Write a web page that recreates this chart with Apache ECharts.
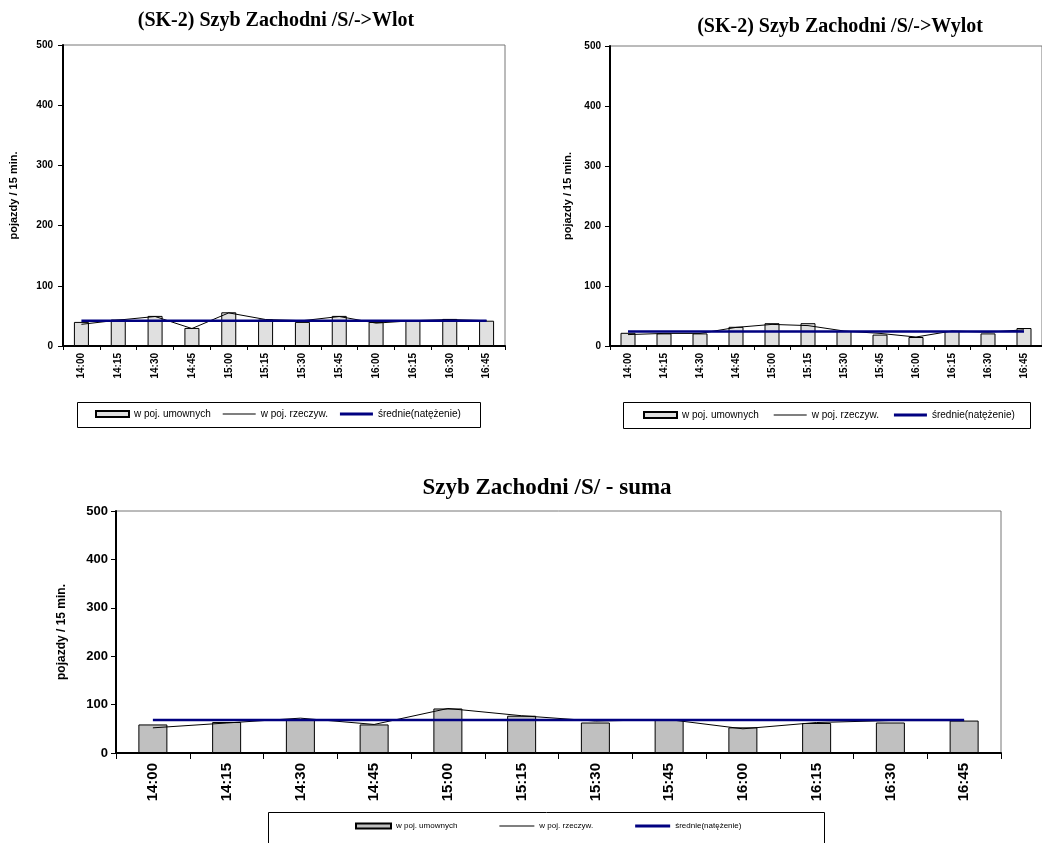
<!DOCTYPE html>
<html>
<head>
<meta charset="utf-8">
<script src="https://cdn.jsdelivr.net/npm/echarts@6/dist/echarts.min.js"></script>
<style>
  html, body { margin: 0; padding: 0; background: #fff; }
  #wrap { position: relative; width: 1042px; height: 843px; overflow: hidden; background: #fff; }
  .c { position: absolute; overflow: hidden; }
</style>
</head>
<body>
<div id="wrap">
  <div id="wlot" class="c" style="left:0;top:0;width:540px;height:440px"></div>
  <div id="wylot" class="c" style="left:540px;top:0;width:502px;height:440px"></div>
  <div id="suma" class="c" style="left:0;top:450px;width:1042px;height:393px"></div>
</div>
<script>
// 15-minute intervals
const times = ['14:00','14:15','14:30','14:45','15:00','15:15','15:30','15:45','16:00','16:15','16:30','16:45'];
const yTicks = [0, 100, 200, 300, 400, 500];

// (SK-2) Szyb Zachodni /S/ -> Wlot
const wlotUmowne   = [40, 44, 50, 30, 56, 44, 40, 50, 40, 43, 45, 42];
const wlotRzeczyw  = [36, 43, 49, 29, 55, 44, 42, 49, 38, 42, 44, 42];
const wlotSrednie  = [42, 42, 42, 42, 42, 42, 42, 42, 42, 42, 42, 42];

// (SK-2) Szyb Zachodni /S/ -> Wylot
const wylotUmowne  = [22, 21, 21, 32, 38, 38, 25, 19, 15, 25, 21, 30];
const wylotRzeczyw = [19, 21, 21, 31, 36, 34, 25, 21, 15, 25, 23, 27];
const wylotSrednie = [24, 24, 24, 24, 24, 24, 24, 24, 24, 24, 24, 24];

// Szyb Zachodni /S/ - suma
const sumaUmowne   = [59, 64, 70, 59, 92, 77, 63, 69, 53, 62, 63, 67];
const sumaRzeczyw  = [52, 62, 72, 59, 92, 77, 66, 69, 50, 63, 67, 67];
const sumaSrednie  = [68, 68, 68, 68, 68, 68, 68, 68, 68, 68, 68, 68];

const NAME_BAR = 'w poj. umownych';
const NAME_LINE = 'w poj. rzeczyw.';
const NAME_AVG = 'średnie(natężenie)';
const SANS = "'Liberation Sans', Arial, sans-serif";
const SERIF = "'Liberation Serif', 'Times New Roman', serif";

// legend icons: thin black line and thick navy line
const ICON_THIN = 'path://M0 0H33V1H0Z';
const ICON_THICK = 'path://M0 0H33V3H0Z';

function buildOption(cfg) {
  return {
    animation: false,
    backgroundColor: '#fff',
    graphic: [
      { type: 'text', x: cfg.titleX, y: cfg.titleY,
        style: { text: cfg.title, font: 'bold ' + cfg.titleSize + 'px ' + SERIF,
                 fill: '#000', align: 'center', verticalAlign: 'middle' } },
      { type: 'rect', shape: cfg.legendBox,
        style: { fill: 'none', stroke: '#000', lineWidth: 1 } }
    ],
    legend: {
      left: cfg.legendLeft, top: cfg.legendTop, padding: 0,
      itemGap: cfg.legendGap, itemWidth: cfg.legendIconW, itemHeight: cfg.legendIconH,
      textStyle: { fontFamily: SANS, fontSize: cfg.legendFont, color: '#000' },
      selectedMode: false,
      data: [
        { name: NAME_BAR, icon: 'rect' },
        { name: NAME_LINE, icon: ICON_THIN },
        { name: NAME_AVG, icon: ICON_THICK }
      ]
    },
    grid: Object.assign({ show: true, borderColor: '#777', borderWidth: 1, containLabel: false }, cfg.grid),
    xAxis: {
      type: 'category', data: times, boundaryGap: true,
      axisLine: { lineStyle: { color: '#000', width: cfg.axisW } },
      axisTick: { show: true, length: cfg.xTickLen, lineStyle: { color: '#000', width: 1 } },
      axisLabel: { rotate: 90, margin: cfg.xLabelMargin, color: '#000', fontWeight: 'bold',
                   fontFamily: SANS, fontSize: cfg.xFont, interval: 0 },
      splitLine: { show: false }
    },
    yAxis: {
      type: 'value', min: yTicks[0], max: yTicks[yTicks.length - 1], interval: 100,
      name: 'pojazdy / 15 min.', nameLocation: 'middle', nameGap: cfg.nameGap,
      nameTextStyle: { fontFamily: SANS, fontWeight: 'bold', fontSize: cfg.nameFont, color: '#000' },
      axisLine: { show: true, lineStyle: { color: '#000', width: cfg.axisW } },
      axisTick: { show: true, length: 5, lineStyle: { color: '#000', width: 1 } },
      axisLabel: { margin: cfg.yLabelMargin, color: '#000', fontWeight: 'bold',
                   fontFamily: SANS, fontSize: cfg.yFont },
      splitLine: { show: false }
    },
    series: [
      { name: NAME_BAR, type: 'bar', data: cfg.bar, barWidth: cfg.barWidth,
        itemStyle: { color: cfg.barColor, borderColor: '#000', borderWidth: 1 } },
      { name: NAME_LINE, type: 'line', data: cfg.line, symbol: 'none',
        lineStyle: { color: '#000', width: 1 }, itemStyle: { color: '#000' } },
      { name: NAME_AVG, type: 'line', data: cfg.avg, symbol: 'none',
        lineStyle: { color: '#000080', width: 2.5 }, itemStyle: { color: '#000080' } }
    ]
  };
}

const common = {
  axisW: 2, xTickLen: 4, xFont: 10, yFont: 10, nameFont: 11,
  legendFont: 10, legendIconW: 33, legendIconH: 6
};

echarts.init(document.getElementById('wlot'), null, { renderer: 'canvas' }).setOption(buildOption(Object.assign({}, common, {
  title: '(SK-2) Szyb Zachodni /S/->Wlot', titleX: 276, titleY: 21, titleSize: 20,
  grid: { left: 63, top: 45, right: 35, height: 301 },
  xLabelMargin: 7, yLabelMargin: 10, nameGap: 44,
  bar: wlotUmowne, line: wlotRzeczyw, avg: wlotSrednie,
  barWidth: 15, barColor: '#e0e0e0',
  legendBox: { x: 77.5, y: 402.5, width: 403, height: 25 },
  legendLeft: 95, legendTop: 409, legendGap: 12
})));

echarts.init(document.getElementById('wylot'), null, { renderer: 'canvas' }).setOption(buildOption(Object.assign({}, common, {
  title: '(SK-2) Szyb Zachodni /S/->Wylot', titleX: 300, titleY: 27, titleSize: 20,
  grid: { left: 70, top: 46, right: -10, height: 300 },
  xLabelMargin: 7, yLabelMargin: 9, nameGap: 37,
  bar: wylotUmowne, line: wylotRzeczyw, avg: wylotSrednie,
  barWidth: 15, barColor: '#e0e0e0',
  legendBox: { x: 83.5, y: 402.5, width: 407, height: 26 },
  legendLeft: 103, legendTop: 410, legendGap: 15
})));

echarts.init(document.getElementById('suma'), null, { renderer: 'canvas' }).setOption(buildOption(Object.assign({}, common, {
  title: 'Szyb Zachodni /S/ - suma', titleX: 547, titleY: 38, titleSize: 23,
  grid: { left: 116, top: 61, right: 41, height: 242 },
  xLabelMargin: 10, yLabelMargin: 8, nameGap: 48,
  xFont: 15, yFont: 13, nameFont: 12, xTickLen: 6,
  bar: sumaUmowne, line: sumaRzeczyw, avg: sumaSrednie,
  barWidth: 29, barColor: '#c0c0c0',
  legendBox: { x: 268.5, y: 362.5, width: 556, height: 40 },
  legendLeft: 355, legendTop: 372, legendGap: 42,
  legendFont: 8, legendIconW: 35, legendIconH: 5
})));
</script>
</body>
</html>
